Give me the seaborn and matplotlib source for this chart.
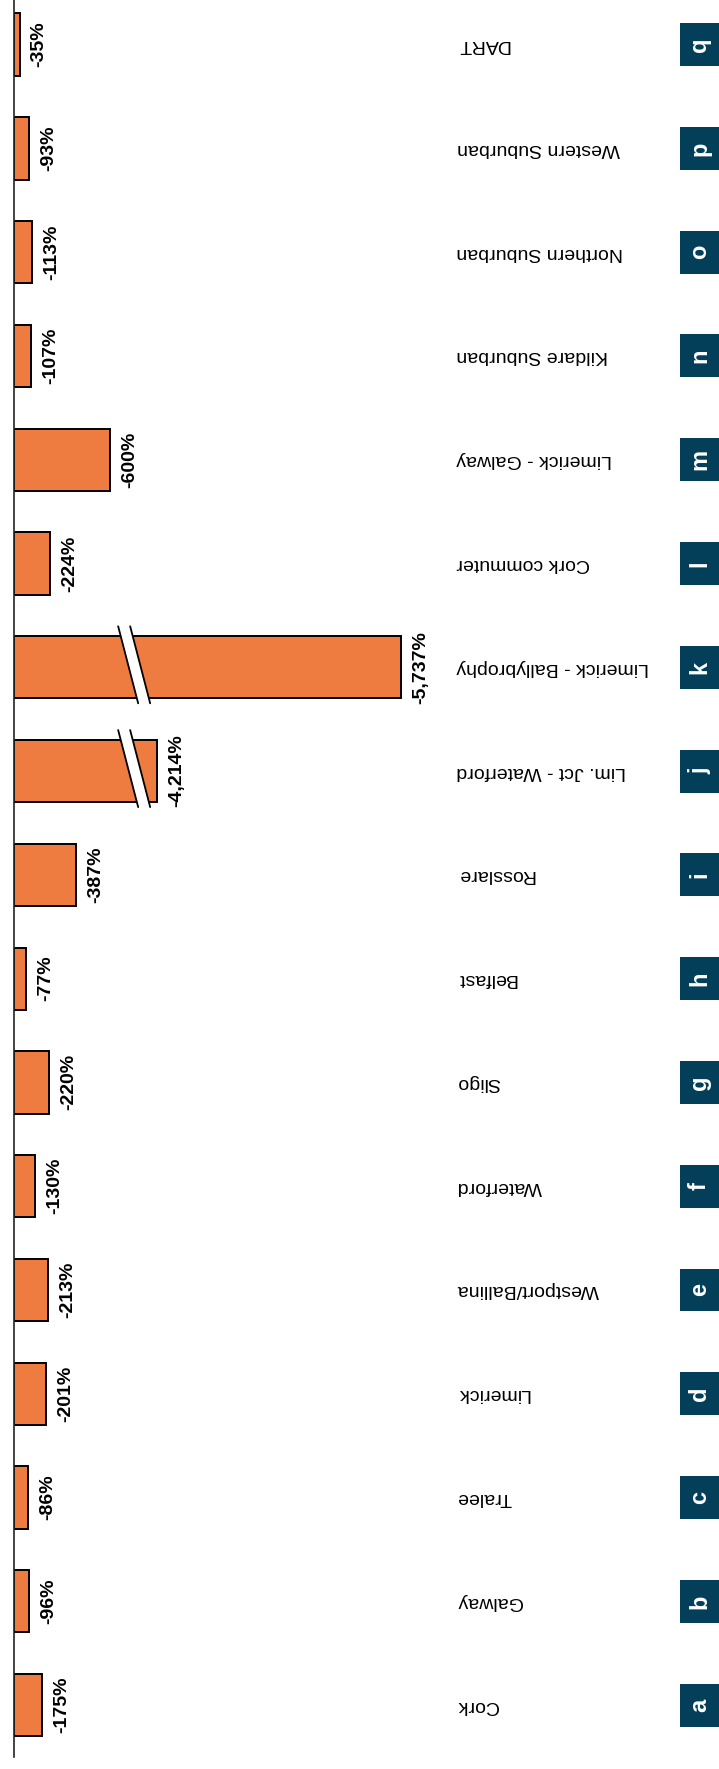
import numpy as np
import pandas as pd
import matplotlib
matplotlib.use("Agg")
import matplotlib.pyplot as plt
import matplotlib.transforms as mtransforms
from matplotlib.patches import Rectangle, Polygon
import seaborn as sns

# Route data
letters = list("abcdefghijklmnopq")
routes = ["Cork", "Galway", "Tralee", "Limerick", "Westport/Ballina", "Waterford",
          "Sligo", "Belfast", "Rosslare", "Lim. Jct - Waterford",
          "Limerick - Ballybrophy", "Cork commuter", "Limerick - Galway",
          "Kildare Suburban", "Northern Suburban", "Western Suburban", "DART"]
pct_change = [-175, -96, -86, -201, -213, -130, -220, -77, -387, -4214,
              -5737, -224, -600, -107, -113, -93, -35]

# Broken value axis: the span between these two values is squeezed out
BREAK_LO, BREAK_HI, SQUEEZE = 750, 4070, 1e-4
XMAX = 7720

BAR_COLOR = "#EE7B40"
BOX_COLOR = "#043F5A"


def fwd(x):
    x = np.asarray(x, dtype=float)
    return np.where(x <= BREAK_LO, x,
                    np.where(x < BREAK_HI, BREAK_LO + (x - BREAK_LO) * SQUEEZE,
                             BREAK_LO + (BREAK_HI - BREAK_LO) * SQUEEZE + (x - BREAK_HI)))


def inv(t):
    t = np.asarray(t, dtype=float)
    t0 = BREAK_LO + (BREAK_HI - BREAK_LO) * SQUEEZE
    return np.where(t <= BREAK_LO, t,
                    np.where(t < t0, BREAK_LO + (t - BREAK_LO) / SQUEEZE,
                             BREAK_HI + (t - t0)))


df = pd.DataFrame({"letter": letters, "route": routes, "pct": pct_change})
df["size"] = -df["pct"]
order = letters[::-1]  # 'a' ends up at the bottom

sns.set_style("white")
plt.rcParams["font.family"] = ["Liberation Sans", "DejaVu Sans"]

W, H = 719, 1769
fig = plt.figure(figsize=(W / 100, H / 100), dpi=100)
ax = fig.add_axes([14 / W, 12 / H, 705 / W, 1757 / H])

sns.barplot(data=df, x="size", y="letter", order=order, orient="h",
            color=BAR_COLOR, saturation=1, edgecolor="black", linewidth=1.4,
            width=0.6, ax=ax)

ax.set_xscale("function", functions=(fwd, inv))
ax.set_xlim(0, XMAX)
ax.set_ylim(len(order) - 0.5, -0.43)
ax.set_xticks([])
ax.set_yticks([])
ax.set_xlabel("")
ax.set_ylabel("")
for side in ("top", "right", "bottom"):
    ax.spines[side].set_visible(False)
ax.spines["left"].set_linewidth(1.2)
ax.spines["left"].set_color("#222222")

blend = mtransforms.blended_transform_factory(ax.transAxes, ax.transData)
pos = {l: i for i, l in enumerate(order)}

for letter, route, pct, size in zip(df["letter"], df["route"], df["pct"], df["size"]):
    y = pos[letter]
    # value label
    ax.annotate(f"{pct:,}%", xy=(size, y), xytext=(8, 0), textcoords="offset points",
                rotation=90, ha="left", va="center", fontsize=14,
                fontweight="bold", color="black")
    # route name
    ax.text(0.628, y, route, transform=blend, rotation=180, ha="left",
            va="center", fontsize=14, color="black")
    # letter badge
    ax.add_patch(Rectangle((0.9447, y - 0.207), 0.06, 0.414, transform=blend,
                           facecolor=BOX_COLOR, edgecolor="none", clip_on=False))
    ax.text(0.9723, y, letter, transform=blend, rotation=90, ha="center",
            va="center", fontsize=17, fontweight="bold", color="white")

# break marks on the bars that run past the squeezed span
fig.canvas.draw()
for letter, size in zip(df["letter"], df["size"]):
    if size <= BREAK_HI:
        continue
    cx, cy = ax.transData.transform((BREAK_LO, pos[letter]))
    top, bot = cy + 41, cy - 36
    verts = [(cx - 16, top), (cx - 4, top), (cx + 16, bot), (cx + 4, bot)]
    ax.add_patch(Polygon(verts, closed=True, transform=mtransforms.IdentityTransform(),
                         facecolor="white", edgecolor="none", clip_on=False, zorder=5))
    for (x0, x1) in ((cx - 16, cx + 4), (cx - 4, cx + 16)):
        ax.add_line(plt.Line2D([x0, x1], [top, bot], transform=mtransforms.IdentityTransform(),
                               color="black", linewidth=1.3, zorder=6, clip_on=False))

fig.savefig("out.png", dpi=100)
